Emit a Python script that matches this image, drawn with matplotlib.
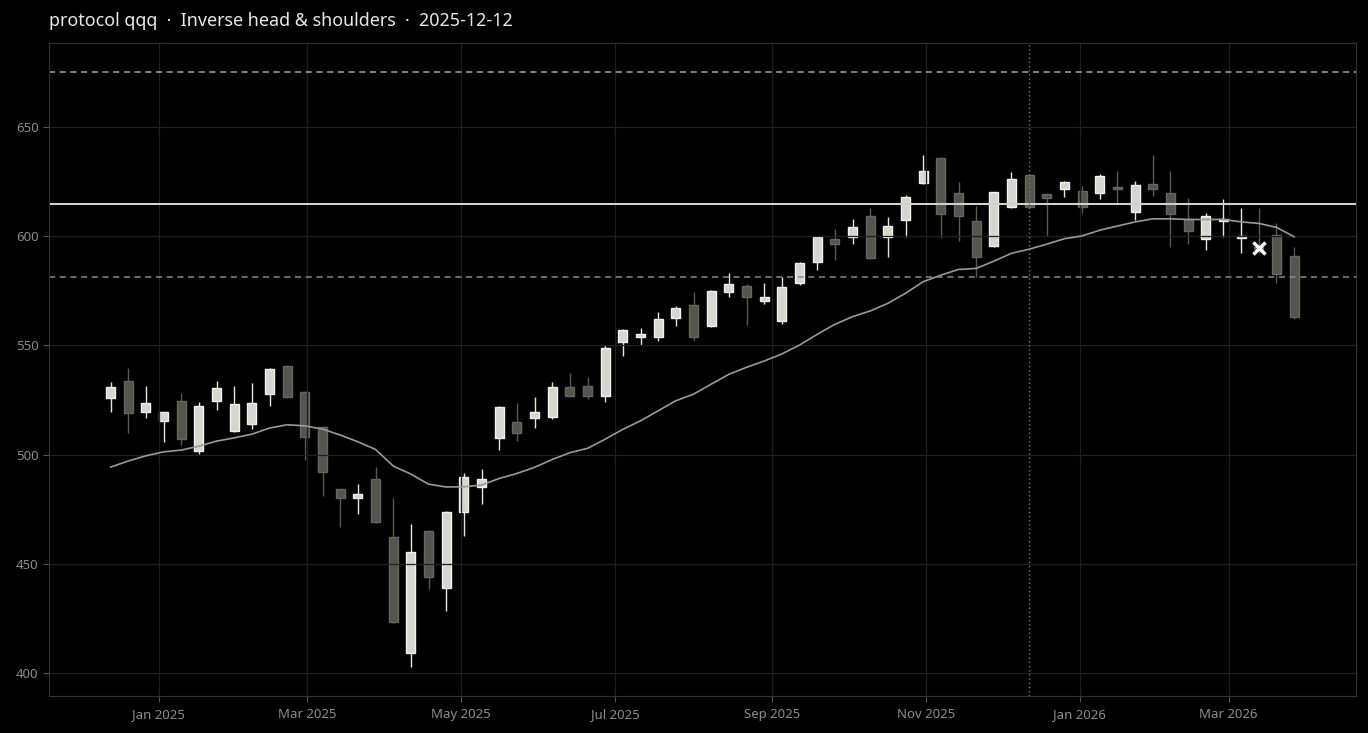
import numpy as np
import pandas as pd
import matplotlib
matplotlib.use("Agg")
import matplotlib.pyplot as plt
import matplotlib.dates as mdates

plt.rcParams['font.family'] = ['Noto Sans', 'DejaVu Sans']

# weekly candles, Fridays from 2024-12-13
dates = pd.date_range("2024-12-13", periods=68, freq="7D")

opens = [525.8, 533.8, 519.6, 515.5, 524.7, 501.5, 524.7, 510.9, 513.9, 527.6,
         540.4, 528.5, 512.5, 484.1, 480.0, 488.7, 462.4, 409.0, 465.2, 438.8,
         473.6, 485.1, 507.5, 515.1, 516.6, 517.4, 530.8, 531.3, 527.0, 551.4,
         553.7, 554.0, 562.4, 568.4, 559.0, 574.6, 577.2, 570.5, 561.3, 578.4,
         588.2, 598.6, 599.5, 609.1, 599.8, 607.3, 624.5, 635.7, 619.6, 606.8,
         595.4, 613.5, 627.9, 619.2, 621.5, 620.8, 619.6, 622.8, 610.9, 623.9,
         619.6, 608.0, 598.6, 607.0, 599.0, 595.2, 600.5, 591.1]
closes = [531.1, 518.9, 523.5, 519.4, 507.3, 522.4, 530.4, 523.0, 523.5, 539.1,
          526.2, 508.2, 492.2, 480.0, 481.8, 469.3, 423.2, 455.3, 444.1, 473.6,
          489.6, 488.7, 521.9, 509.8, 519.6, 530.8, 527.0, 527.0, 548.7, 556.9,
          555.1, 562.0, 567.0, 554.0, 575.0, 578.0, 572.3, 572.0, 576.6, 587.6,
          599.6, 596.3, 604.1, 589.9, 604.5, 617.8, 629.9, 610.0, 609.1, 590.3,
          620.1, 626.1, 613.5, 617.4, 624.7, 613.2, 627.6, 621.5, 623.4, 621.7,
          610.0, 602.4, 609.4, 608.0, 600.0, 594.3, 582.6, 562.9]
highs = [533.4, 539.5, 531.5, 519.6, 528.1, 524.2, 533.8, 531.5, 532.6, 539.6,
         541.2, 529.3, 513.1, 484.3, 486.4, 494.2, 480.0, 468.1, 465.6, 474.0,
         491.4, 493.3, 522.3, 523.5, 526.5, 533.4, 537.2, 535.7, 550.2, 557.4,
         557.8, 565.2, 568.0, 574.6, 575.4, 583.3, 578.0, 578.4, 581.2, 588.0,
         600.0, 603.2, 607.7, 613.0, 608.7, 618.9, 637.2, 636.1, 625.0, 614.0,
         620.5, 629.3, 628.3, 619.4, 625.4, 623.1, 628.3, 630.0, 625.4, 637.2,
         630.0, 617.6, 610.5, 616.9, 613.0, 613.0, 606.2, 595.2]
lows = [519.4, 509.8, 516.6, 505.9, 504.4, 500.1, 520.4, 510.5, 511.6, 522.3,
        525.8, 497.5, 481.0, 467.0, 472.7, 468.5, 422.8, 402.9, 438.3, 428.4,
        462.7, 477.4, 502.1, 506.2, 512.1, 516.2, 526.2, 525.3, 524.0, 545.1,
        550.0, 552.0, 558.9, 552.0, 558.6, 572.0, 559.2, 568.8, 559.8, 577.7,
        584.5, 589.1, 596.3, 589.4, 590.3, 599.8, 624.0, 599.0, 597.8, 581.5,
        595.0, 612.8, 613.0, 600.2, 617.8, 610.5, 616.9, 614.7, 607.4, 618.5,
        594.9, 596.7, 593.7, 599.8, 592.2, 592.5, 578.7, 562.0]
ma = [494.3, 497.1, 499.5, 501.3, 502.1, 503.9, 506.2, 507.7, 509.4, 512.2,
      513.7, 513.2, 511.7, 509.0, 505.9, 502.4, 494.8, 491.1, 486.5, 485.2,
      485.3, 486.1, 489.1, 491.4, 494.2, 497.8, 500.9, 502.9, 507.1, 511.6,
      515.5, 520.1, 524.7, 527.7, 532.3, 536.8, 540.0, 542.9, 546.1, 550.2,
      555.1, 559.7, 563.2, 565.8, 569.3, 573.9, 579.2, 582.2, 584.8, 585.3,
      588.6, 592.2, 594.1, 596.4, 598.9, 600.2, 602.8, 604.7, 606.6, 608.0,
      608.0, 607.7, 607.7, 607.7, 606.6, 605.9, 604.1, 599.8]

target = 675.2
neckline = 614.7
stop = 581.3
signal_date = pd.Timestamp("2025-12-12")
marker_date = pd.Timestamp("2026-03-13")
marker_price = 594.5

opens = np.array(opens)
closes = np.array(closes)
highs = np.array(highs)
lows = np.array(lows)
up = closes >= opens

fig = plt.figure(figsize=(13.68, 7.33), dpi=100, facecolor="black")
ax = fig.add_axes([0.0358, 0.0505, 0.9554, 0.8908])
ax.set_facecolor("black")

# wicks
ax.vlines(dates[up], lows[up], highs[up], color="#e6e6e0", lw=1.0, zorder=1)
ax.vlines(dates[~up], lows[~up], highs[~up], color="#5a5a55", lw=1.0, zorder=1)

# bodies
body_lo = np.minimum(opens, closes)
body_h = np.abs(closes - opens)
ax.bar(dates[up], body_h[up], bottom=body_lo[up], width=3.6,
       color="#d6d6d0", edgecolor="#f2f2ec", linewidth=1.0, zorder=1)
ax.bar(dates[~up], body_h[~up], bottom=body_lo[~up], width=3.6,
       color="#55554f", edgecolor="#66665f", linewidth=1.0, zorder=1)

ax.plot(dates, ma, color="#9a9a9a", lw=1.2, zorder=2)

ax.axhline(target, color="#a8a8a8", lw=1.1, ls=(0, (4, 3)), zorder=2)
ax.axhline(neckline, color="#d0d0d0", lw=1.5, zorder=2)
ax.axhline(stop, color="#8a8a8a", lw=1.1, ls=(0, (4, 3)), zorder=2)
ax.axvline(signal_date, color="#777777", lw=1.0, ls=(0, (1, 2)), zorder=2)

ax.plot([marker_date], [marker_price], marker="x", color="white",
        ms=9, mew=2.5, zorder=4)

ax.set_ylim(389.5, 688.5)
ax.set_xlim(pd.Timestamp("2024-11-18 14:00"), pd.Timestamp("2026-04-20 12:00"))
ax.set_yticks([400, 450, 500, 550, 600, 650])
ax.xaxis.set_major_locator(mdates.MonthLocator(bymonth=[1, 3, 5, 7, 9, 11]))
ax.xaxis.set_major_formatter(mdates.DateFormatter("%b %Y"))

ax.set_axisbelow("line")
ax.grid(True, color="#202020", lw=0.9)
for s in ax.spines.values():
    s.set_color("#333333")
ax.tick_params(colors="#555555", labelcolor="#8c8c8c", labelsize=9.5, length=4)
ax.tick_params(axis="x", pad=5)

ax.set_title("protocol qqq  \u00b7  Inverse head & shoulders  \u00b7  2025-12-12",
             loc="left", color="#e8e8e8", fontsize=12.9, pad=12)

fig.savefig("out.png", dpi=100, facecolor="black")
